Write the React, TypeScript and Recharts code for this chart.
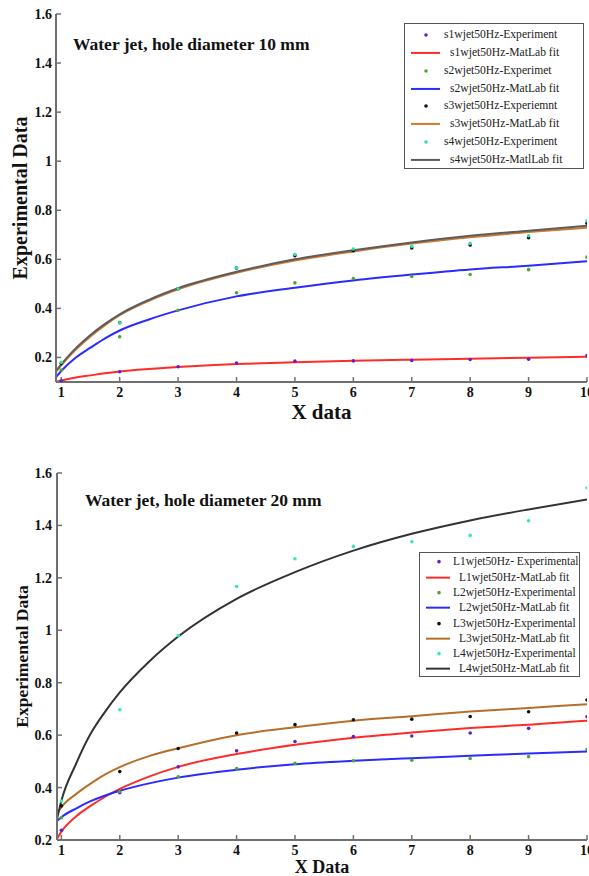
import { ComposedChart, Line, Scatter, XAxis, YAxis } from "recharts";

const FONT = "'Liberation Serif', 'Times New Roman', serif";
const FRAME = "#707070";

const pointX = [1, 2, 3, 4, 5, 6, 7, 8, 9, 10];
const xTicks = [1, 2, 3, 4, 5, 6, 7, 8, 9, 10];

// hole diameter 10 mm
const s1Exp = [0.104, 0.142, 0.162, 0.177, 0.185, 0.186, 0.188, 0.192, 0.193, 0.208];
const s2Exp = [0.149, 0.284, 0.392, 0.464, 0.504, 0.522, 0.53, 0.538, 0.558, 0.609];
const s3Exp = [0.176, 0.342, 0.48, 0.565, 0.615, 0.635, 0.646, 0.658, 0.688, 0.747];
const s4Exp = [0.18, 0.341, 0.48, 0.566, 0.62, 0.642, 0.653, 0.665, 0.696, 0.757];

const fitX10 = [0.91, 1, 1.25, 1.5, 1.75, 2, 2.5, 3, 4, 5, 6, 7, 8, 9, 10];
const s1Fit = [0.1, 0.106, 0.118, 0.127, 0.136, 0.143, 0.153, 0.161, 0.173, 0.181, 0.187, 0.191, 0.195, 0.199, 0.203];
const s2Fit = [0.12, 0.145, 0.2, 0.24, 0.278, 0.31, 0.355, 0.392, 0.449, 0.484, 0.514, 0.538, 0.559, 0.574, 0.592];
const s3Fit = [0.142, 0.168, 0.232, 0.286, 0.332, 0.372, 0.431, 0.478, 0.545, 0.595, 0.632, 0.664, 0.69, 0.711, 0.729];
const s4Fit = [0.145, 0.172, 0.238, 0.292, 0.337, 0.376, 0.435, 0.482, 0.549, 0.6, 0.637, 0.669, 0.696, 0.717, 0.737];
const yTicks10 = [0.2, 0.4, 0.6, 0.8, 1, 1.2, 1.4, 1.6];

// hole diameter 20 mm
const L1Exp = [0.237, 0.38, 0.479, 0.54, 0.576, 0.595, 0.597, 0.608, 0.626, 0.67];
const L2Exp = [0.285, 0.385, 0.441, 0.473, 0.493, 0.502, 0.504, 0.511, 0.518, 0.545];
const L3Exp = [0.33, 0.461, 0.549, 0.608, 0.64, 0.659, 0.661, 0.671, 0.689, 0.734];
const L4Exp = [0.349, 0.697, 0.98, 1.167, 1.273, 1.32, 1.338, 1.362, 1.418, 1.544];

const fitX20 = [0.925, 1, 1.25, 1.5, 1.75, 2, 2.5, 3, 4, 5, 6, 7, 8, 9, 10];
const L1Fit = [0.205, 0.232, 0.29, 0.33, 0.365, 0.395, 0.442, 0.479, 0.528, 0.563, 0.59, 0.61, 0.627, 0.64, 0.655];
const L2Fit = [0.272, 0.287, 0.32, 0.348, 0.37, 0.388, 0.416, 0.438, 0.468, 0.489, 0.502, 0.512, 0.521, 0.53, 0.538];
const L3Fit = [0.3, 0.325, 0.375, 0.415, 0.45, 0.478, 0.52, 0.55, 0.6, 0.63, 0.655, 0.672, 0.69, 0.704, 0.718];
const L4Fit = [0.28, 0.35, 0.49, 0.605, 0.69, 0.763, 0.88, 0.976, 1.12, 1.222, 1.304, 1.368, 1.419, 1.461, 1.499];
const yTicks20 = [0.2, 0.4, 0.6, 0.8, 1, 1.2, 1.4, 1.6];

const toPts = (ys: number[]) => pointX.map((x, i) => ({ x, y: ys[i] }));

type Series = { key: string; expName: string; fitName: string; dot: string; line: string; pts: { x: number; y: number }[] };

const series10: Series[] = [
  { key: "a", expName: "s1wjet50Hz-Experiment", fitName: "s1wjet50Hz-MatLab fit", dot: "#6020c8", line: "#ff2b2b", pts: toPts(s1Exp) },
  { key: "b", expName: "s2wjet50Hz-Experimet", fitName: "s2wjet50Hz-MatLab fit", dot: "#4aa832", line: "#2b2bff", pts: toPts(s2Exp) },
  { key: "c", expName: "s3wjet50Hz-Experiemnt", fitName: "s3wjet50Hz-MatLab fit", dot: "#111111", line: "#d07a30", pts: toPts(s3Exp) },
  { key: "d", expName: "s4wjet50Hz-Experiment", fitName: "s4wjet50Hz-MatlLab fit", dot: "#30e0a0", line: "#5c5c5c", pts: toPts(s4Exp) },
];
const fit10 = fitX10.map((x, i) => ({ x, a: s1Fit[i], b: s2Fit[i], c: s3Fit[i], d: s4Fit[i] }));

const series20: Series[] = [
  { key: "a", expName: "L1wjet50Hz- Experimental", fitName: "L1wjet50Hz-MatLab fit", dot: "#6020c8", line: "#ff2b2b", pts: toPts(L1Exp) },
  { key: "b", expName: "L2wjet50Hz-Experimental", fitName: "L2wjet50Hz-MatLab fit", dot: "#4aa832", line: "#2b2bff", pts: toPts(L2Exp) },
  { key: "c", expName: "L3wjet50Hz-Experimental", fitName: "L3wjet50Hz-MatLab fit", dot: "#111111", line: "#b86e2a", pts: toPts(L3Exp) },
  { key: "d", expName: "L4wjet50Hz-Experimental", fitName: "L4wjet50Hz-MatLab fit", dot: "#30f0a0", line: "#333333", pts: toPts(L4Exp) },
];
const fit20 = fitX20.map((x, i) => ({ x, a: L1Fit[i], b: L2Fit[i], c: L3Fit[i], d: L4Fit[i] }));

const tickFont = { fontSize: 14, fontWeight: "bold", fill: "#111", fontFamily: FONT };
const axisLine = { stroke: FRAME, strokeWidth: 2 };
const tickLine = { stroke: FRAME, strokeWidth: 1.5 };

const dotShape = (color: string) => (p: any) => <circle cx={p.cx} cy={p.cy} r={1.8} fill={color} />;

type LegendCfg = { left: number; top: number; width: number; height: number; padTop: number; rowH: number; x1: number; x2: number; dotX: number; expIndent: number; fitIndent: number; fontSize: number };

const LegendBox = ({ cfg, series }: { cfg: LegendCfg; series: Series[] }) => {
  const rows = series.flatMap((s) => [
    { name: s.expName, color: s.dot, kind: "dot", indent: cfg.expIndent },
    { name: s.fitName, color: s.line, kind: "line", indent: cfg.fitIndent },
  ]);
  return (
    <div style={{ position: "absolute", left: cfg.left, top: cfg.top, width: cfg.width, height: cfg.height, border: "1px solid #555", background: "#fff", boxSizing: "border-box" }}>
      {rows.map((r, i) => (
        <div key={i} style={{ position: "absolute", left: 0, top: cfg.padTop + i * cfg.rowH, height: cfg.rowH, width: "100%" }}>
          <svg width={cfg.x2 + 2} height={cfg.rowH} style={{ position: "absolute", left: 0, top: 0 }}>
            {r.kind === "dot" ? (
              <circle cx={cfg.dotX} cy={cfg.rowH / 2} r={1.8} fill={r.color} />
            ) : (
              <line x1={cfg.x1} x2={cfg.x2} y1={cfg.rowH / 2} y2={cfg.rowH / 2} stroke={r.color} strokeWidth={2} />
            )}
          </svg>
          <span style={{ position: "absolute", left: r.indent, top: 0, lineHeight: `${cfg.rowH}px`, fontSize: cfg.fontSize, fontFamily: FONT, color: "#222", whiteSpace: "nowrap" }}>
            {r.name}
          </span>
        </div>
      ))}
    </div>
  );
};

type PanelProps = {
  height: number;
  margin: { top: number; right: number; bottom: number; left: number };
  xMin: number;
  yDomain: [number, number];
  yTicks: number[];
  yAxisW: number;
  yTickMargin: number;
  xAxisH: number;
  xLabelOffset: number;
  xLabelSize: number;
  fit: any[];
  series: Series[];
  title: string;
  titleLeft: number;
  titleTop: number;
  xLabel: string;
  yLabelSize: number;
  yLabelOffset: number;
  legend: LegendCfg;
};

const Panel = (p: PanelProps) => (
  <div style={{ position: "relative", width: 589, height: p.height }}>
    <ComposedChart width={589} height={p.height} data={p.fit} margin={p.margin}>
      <XAxis
        dataKey="x"
        type="number"
        domain={[p.xMin, 10]}
        ticks={xTicks}
        allowDataOverflow
        interval={0}
        height={p.xAxisH}
        tickSize={-5}
        tickMargin={10}
        axisLine={axisLine}
        tickLine={tickLine}
        tick={tickFont}
        label={{ value: p.xLabel, position: "insideBottom", offset: p.xLabelOffset, style: { fontSize: p.xLabelSize, fontWeight: "bold", fontFamily: FONT, fill: "#111" } }}
      />
      <XAxis xAxisId="top" orientation="top" type="number" domain={[p.xMin, 10]} ticks={xTicks} allowDataOverflow interval={0} height={0} tickSize={-5} tick={false} axisLine={axisLine} tickLine={tickLine} />
      <YAxis
        type="number"
        domain={p.yDomain}
        ticks={p.yTicks}
        allowDataOverflow
        interval={0}
        width={p.yAxisW}
        tickSize={-5}
        tickMargin={p.yTickMargin}
        axisLine={axisLine}
        tickLine={tickLine}
        tick={tickFont}
        label={{ value: "Experimental Data", angle: -90, position: "insideLeft", offset: p.yLabelOffset, style: { textAnchor: "middle", fontSize: p.yLabelSize, fontWeight: "bold", fontFamily: FONT, fill: "#111" } }}
      />
      <YAxis yAxisId="right" orientation="right" type="number" domain={p.yDomain} ticks={p.yTicks} allowDataOverflow interval={0} width={0} tickSize={-5} tick={false} axisLine={axisLine} tickLine={tickLine} />
      {p.series.flatMap((s) => [
        <Scatter key={s.key + "p"} name={s.expName} data={s.pts} dataKey="y" fill={s.dot} shape={dotShape(s.dot)} isAnimationActive={false} />,
        <Line key={s.key + "l"} name={s.fitName} dataKey={s.key} type="monotone" stroke={s.line} strokeWidth={2} dot={false} activeDot={false} isAnimationActive={false} />,
      ])}
    </ComposedChart>
    <div style={{ position: "absolute", left: p.titleLeft, top: p.titleTop, fontFamily: FONT, fontWeight: "bold", fontSize: 17.5, lineHeight: 1, color: "#111", whiteSpace: "nowrap" }}>
      {p.title}
    </div>
    <LegendBox cfg={p.legend} series={p.series} />
  </div>
);

export default function App() {
  return (
    <div style={{ position: "absolute", left: 0, top: 0, width: 589, height: 876, background: "#fff", overflow: "hidden" }}>
      <Panel
        height={440}
        margin={{ top: 14, right: 2, bottom: 18, left: 0 }}
        xMin={0.91}
        yDomain={[0.1, 1.6]}
        yTicks={yTicks10}
        yAxisW={56}
        yTickMargin={9}
        xAxisH={40}
        xLabelOffset={3}
        xLabelSize={21}
        fit={fit10}
        series={series10}
        title="Water jet, hole diameter 10 mm"
        titleLeft={73}
        titleTop={36}
        xLabel="X data"
        yLabelSize={20}
        yLabelOffset={20}
        legend={{ left: 404, top: 23, width: 180, height: 146, padTop: 2, rowH: 17.86, x1: 6, x2: 35, dotX: 21, expIndent: 39, fitIndent: 45, fontSize: 11.6 }}
      />
      <Panel
        height={436}
        margin={{ top: 33, right: 2, bottom: 0, left: 0 }}
        xMin={0.925}
        yDomain={[0.2, 1.6]}
        yTicks={yTicks20}
        yAxisW={57}
        yTickMargin={10}
        xAxisH={36}
        xLabelOffset={3}
        xLabelSize={18}
        fit={fit20}
        series={series20}
        title="Water jet, hole diameter 20 mm"
        titleLeft={85}
        titleTop={52}
        xLabel="X Data"
        yLabelSize={17.5}
        yLabelOffset={22}
        legend={{ left: 419, top: 112, width: 161, height: 125, padTop: 1.35, rowH: 15.3, x1: 6, x2: 30, dotX: 19, expIndent: 33, fitIndent: 39, fontSize: 11.45 }}
      />
    </div>
  );
}
